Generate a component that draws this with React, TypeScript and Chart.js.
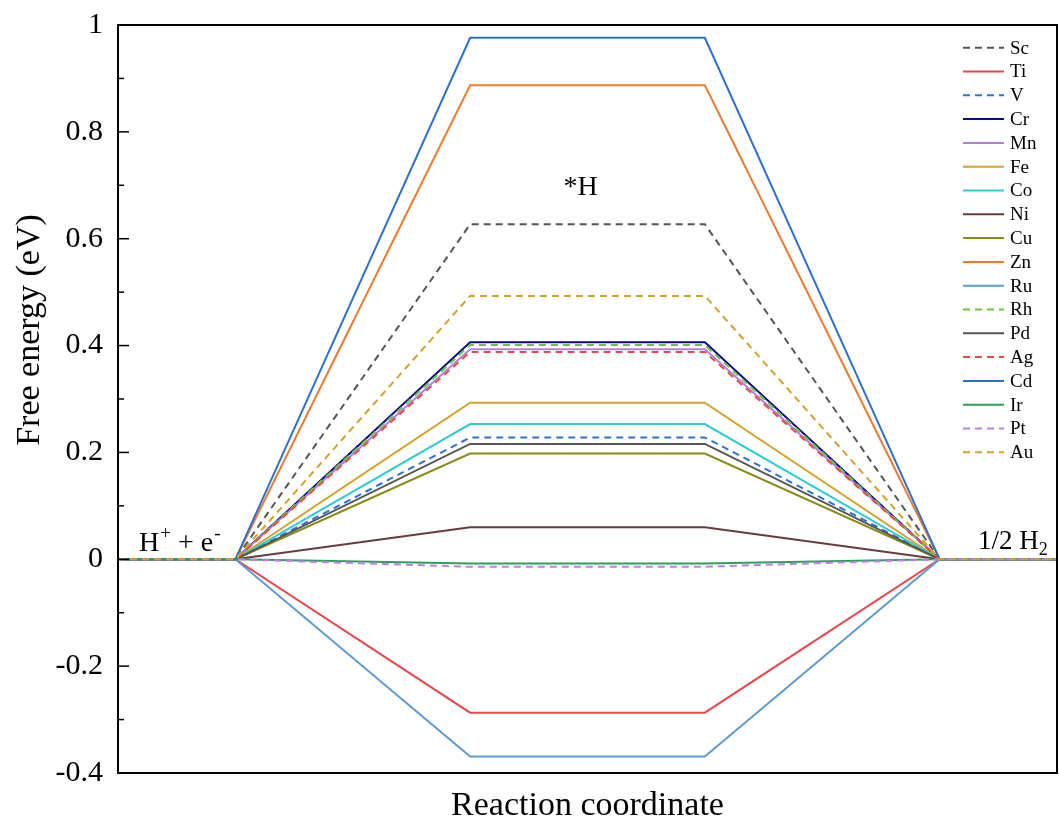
import React, { useEffect, useRef } from "react";
import { Chart, registerables } from "chart.js";

Chart.register(...registerables);

// Reaction coordinate positions of the profile points
const coordX = [0, 1, 3, 5, 7, 8];
// Metals (legend order)
const metals = ["Sc", "Ti", "V", "Cr", "Mn", "Fe", "Co", "Ni", "Cu", "Zn", "Ru", "Rh", "Pd", "Ag", "Cd", "Ir", "Pt", "Au"];
// Free energy of *H (eV)
const energyH = [0.627, -0.287, 0.228, 0.406, 0.393, 0.293, 0.253, 0.06, 0.198, 0.887, -0.369, 0.401, 0.216, 0.388, 0.976, -0.008, -0.014, 0.493];
// Initial (H+ + e-) and final (1/2 H2) free energies
const energyInitial = [0, 0, 0, 0, 0, 0, 0, 0, 0, 0, 0, 0, 0, 0, 0, 0, 0, 0];
const energyFinal = [0, 0, 0, 0, 0, 0, 0, 0, 0, 0, 0, 0, 0, 0, 0, 0, 0, 0];
const colors = ["#555555", "#e8474a", "#2f6fd6", "#0b0b8a", "#b57fe0", "#d6a12a", "#2ccbd3", "#6b3b3b", "#8a8a16", "#ef7a2f", "#5e9bd4", "#6cc43a", "#555555", "#ef4a4a", "#2b6fd2", "#2aa05f", "#c07ee8", "#d6a12a"];
const dashed = [true, false, true, false, false, false, false, false, false, false, false, true, false, true, false, false, true, true];
const yTicks = [-0.4, -0.2, 0, 0.2, 0.4, 0.6, 0.8, 1];

const SERIF = "'Liberation Serif', 'Times New Roman', serif";

export default function App() {
  const ref = useRef<HTMLCanvasElement | null>(null);
  useEffect(() => {
    document.body.style.margin = "0";
    const canvas = ref.current;
    if (!canvas) return;

    const datasets = metals.map((m, i) => ({
      label: m,
      data: coordX.map((x, k) => ({
        x,
        y: k < 2 ? energyInitial[i] : k < 4 ? energyH[i] : energyFinal[i],
      })),
      borderColor: colors[i],
      backgroundColor: colors[i],
      borderWidth: 2,
      borderDash: dashed[i] ? [7, 5] : [],
      pointRadius: 0,
      fill: false,
      tension: 0,
      order: metals.length - 1 - i,
    }));

    const decor = {
      id: "decor",
      afterDraw(chart: any) {
        const { ctx, chartArea } = chart;
        const ys = chart.scales.y;
        const xs = chart.scales.x;
        ctx.save();
        // frame
        ctx.strokeStyle = "#000";
        ctx.lineWidth = 2;
        ctx.setLineDash([]);
        ctx.strokeRect(chartArea.left, chartArea.top, chartArea.right - chartArea.left, chartArea.bottom - chartArea.top);
        // inward ticks on left axis
        ctx.lineWidth = 1.5;
        for (let v = -0.4; v <= 1.0001; v += 0.1) {
          const y = ys.getPixelForValue(v);
          const major = Math.abs(Math.round(v * 10) % 2) === 0;
          ctx.beginPath();
          ctx.moveTo(chartArea.left, y);
          ctx.lineTo(chartArea.left + (major ? 11 : 6), y);
          ctx.stroke();
        }
        // axis titles
        ctx.fillStyle = "#000";
        ctx.font = `34px ${SERIF}`;
        ctx.textAlign = "center";
        ctx.textBaseline = "middle";
        ctx.fillText("Reaction coordinate", (chartArea.left + chartArea.right) / 2, 806);
        ctx.save();
        ctx.translate(30, 330);
        ctx.rotate(-Math.PI / 2);
        ctx.fillText("Free energy (eV)", 0, 0);
        ctx.restore();
        // state labels
        ctx.font = `28px ${SERIF}`;
        ctx.fillText("*H", xs.getPixelForValue(4) - 7, 188);
        ctx.textAlign = "left";
        ctx.textBaseline = "alphabetic";
        let x = 139;
        const base = 551;
        ctx.font = `28px ${SERIF}`;
        ctx.fillText("H", x, base);
        x += ctx.measureText("H").width + 1;
        ctx.font = `19px ${SERIF}`;
        ctx.fillText("+", x, base - 12);
        x += ctx.measureText("+").width;
        ctx.font = `28px ${SERIF}`;
        ctx.fillText(" + e", x, base);
        x += ctx.measureText(" + e").width;
        ctx.font = `19px ${SERIF}`;
        ctx.fillText("-", x + 1, base - 12);
        // 1/2 H2
        x = 978;
        const base2 = 549;
        ctx.font = `27px ${SERIF}`;
        ctx.fillText("1/2 H", x, base2);
        x += ctx.measureText("1/2 H").width;
        ctx.font = `18px ${SERIF}`;
        ctx.fillText("2", x, base2 + 6);
        // legend
        ctx.font = `19px ${SERIF}`;
        ctx.textBaseline = "middle";
        chart.data.datasets.forEach((ds: any, i: number) => {
          const y = 47.7 + i * 23.8;
          ctx.strokeStyle = ds.borderColor;
          ctx.lineWidth = 2;
          ctx.setLineDash(ds.borderDash || []);
          ctx.beginPath();
          ctx.moveTo(963, y);
          ctx.lineTo(1004, y);
          ctx.stroke();
          ctx.setLineDash([]);
          ctx.fillStyle = "#000";
          ctx.fillText(ds.label, 1010, y + 1);
        });
        ctx.restore();
      },
    };

    const chart = new Chart(canvas, {
      type: "line",
      data: { datasets },
      options: {
        animation: false,
        responsive: false,
        maintainAspectRatio: false,
        layout: { padding: { top: 25, right: 2, bottom: 58, left: 0 } },
        plugins: { legend: { display: false }, tooltip: { enabled: false } },
        scales: {
          x: { type: "linear", min: 0, max: 8, display: false },
          y: {
            type: "linear",
            min: -0.4,
            max: 1,
            afterFit: (s: any) => {
              s.width = 118;
              s.paddingTop = 0;
              s.paddingBottom = 0;
            },
            afterBuildTicks: (s: any) => { s.ticks = yTicks.map((v) => ({ value: v })); },
            grid: { display: false, drawTicks: false },
            border: { display: false },
            ticks: {
              padding: 15,
              color: "#000",
              font: { family: SERIF, size: 30 },
              callback: (v: any) => String(Number(Number(v).toFixed(1))),
            },
          },
        },
      },
      plugins: [decor],
    });
    return () => chart.destroy();
  }, []);
  return (
    <div style={{ width: 1059, height: 831, background: "#fff" }}>
      <canvas ref={ref} width={1059} height={831} />
    </div>
  );
}
